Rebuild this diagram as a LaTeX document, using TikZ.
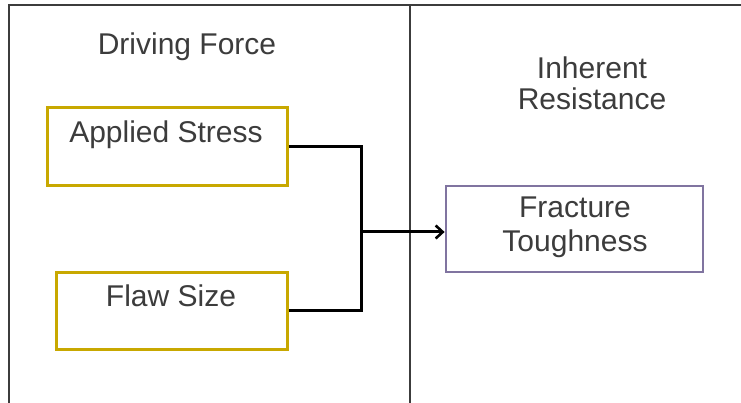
\documentclass[tikz,border=0pt]{standalone}
\usepackage{fontspec}
\setmainfont{Liberation Sans}
\usetikzlibrary{arrows.meta}
\definecolor{txt}{RGB}{60,60,60}
\definecolor{gold}{RGB}{200,168,0}
\definecolor{lav}{RGB}{128,116,160}
\definecolor{frame}{RGB}{60,60,60}
\tikzset{
  goldbox/.style={draw=gold, line width=3pt, fill=white, minimum width=#1, inner sep=0pt},
  lavbox/.style={draw=lav, line width=2.8pt, fill=white, inner sep=0pt},
  lbl/.style={text=txt, font=\fontsize{30}{34}\selectfont, align=center},
  conn/.style={line width=3pt, black},
}
\begin{document}
\begin{tikzpicture}[x=1pt,y=-1pt]
\useasboundingbox (0,0) rectangle (741,403);
\fill[white] (0,0) rectangle (741,403);
% frame
\draw[frame, line width=2.2pt] (9,403) -- (9,5) -- (741,5);
\draw[frame, line width=2.2pt] (410,5) -- (410,403);
% headings
\node[lbl] (df) at (187,47) {Driving Force};
\node[lbl] (ir) at (592,83) {Inherent\\[-3pt]Resistance};
% boxes
\node[goldbox=240pt, minimum height=78pt] (as) at (167,147) {};
\node[lbl] (ast) at (166,135) {Applied Stress};
\node[goldbox=231pt, minimum height=77pt] (fs) at (171.5,310.5) {};
\node[lbl] (fst) at (171,296) {Flaw Size};
\node[lavbox, minimum width=257pt, minimum height=86pt] (ft) at (574.5,229) {};
\node[lbl] (ftt) at (575,227) {Fracture\\Toughness};
% connectors
\coordinate (j) at (361,232);
\draw[conn] (as.east) -| (j) |- (fs.east);
\draw[conn, -{Straight Barb[length=7pt,width=13pt,line width=2.6pt]}] (j) -- (j -| ft.west);
\end{tikzpicture}
\end{document}
